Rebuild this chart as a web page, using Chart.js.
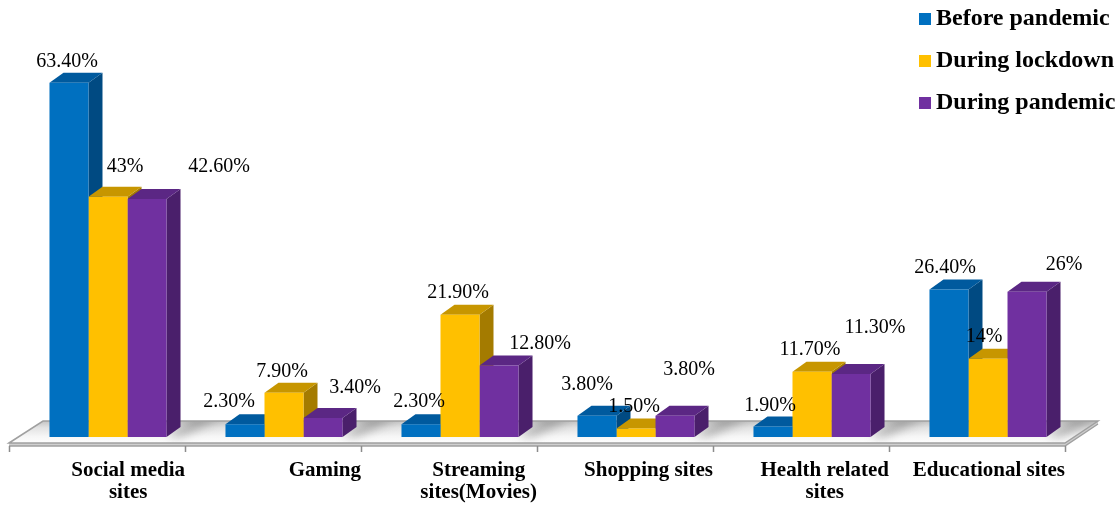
<!DOCTYPE html>
<html>
<head>
<meta charset="utf-8">
<script src="https://cdn.jsdelivr.net/npm/chart.js@4/dist/chart.umd.min.js"></script>
<style>
  html, body { margin: 0; padding: 0; background: #fff; }
  canvas { display: block; }
</style>
</head>
<body>
<canvas id="usage" width="1120" height="508"></canvas>
<script>
// site categories (wrapped the way they are printed under the floor)
const categories = [
  ["Social media", "sites"],
  ["Gaming"],
  ["Streaming", "sites(Movies)"],
  ["Shopping sites"],
  ["Health related", "sites"],
  ["Educational sites"]
];
const seriesNames = ["Before pandemic", "During lockdown", "During pandemic"];
const beforePandemic = [63.4, 2.3, 2.3, 3.8, 1.9, 26.4];
const duringLockdown = [43, 7.9, 21.9, 1.5, 11.7, 14];
const duringPandemic = [42.6, 3.4, 12.8, 3.8, 11.3, 26];

const frontColors = ["#0070C0", "#FFC000", "#7030A0"];
const topColors = ["#005A9E", "#C79600", "#5B2784"];
const sideColors = ["#004A82", "#A47B00", "#4A1F6B"];

// where each value label sits, relative to the top centre of its bar
const labelShift = [
  [[-2, -21], [-16, -22], [-2, -22], [-10, -31], [-3, -21], [-4, -22]],
  [[17, -30], [-2, -21], [-2, -22], [-2, -22], [-2, -22], [-4, -22]],
  [[72, -32], [32, -30], [41, -22], [14, -46], [24, -46], [37, -27]]
];

const DX = 14, DY = 10;   // bar depth
const SERIF = "'Liberation Serif', 'Times New Roman', serif";

function pct(v) {
  return (Number.isInteger(v) ? v : v.toFixed(2)) + "%";
}

function path(ctx, pts) {
  ctx.beginPath();
  ctx.moveTo(pts[0][0], pts[0][1]);
  for (let i = 1; i < pts.length; i++) ctx.lineTo(pts[i][0], pts[i][1]);
  ctx.closePath();
}

function poly(ctx, pts, fill) {
  path(ctx, pts);
  ctx.fillStyle = fill;
  ctx.fill();
}

const threeD = {
  id: "threeD",
  beforeDatasetsDraw(chart) {
    const { ctx, chartArea: a } = chart;
    const base = a.bottom;
    ctx.save();

    // floor slab
    const fl = a.left - 11, fr = a.right - 11, bl = a.left + 23, br = a.right + 22;
    const fy = base + 6, by = base - 16;
    const top = [[fl, fy], [bl, by], [br, by], [fr, fy]];
    poly(ctx, [[fl, fy], [fl, fy + 3], [fr, fy + 3], [br, by + 3], [br, by], [fr, fy]], "#cfcfcf");
    const g = ctx.createLinearGradient(0, by, 0, fy);
    g.addColorStop(0, "#c4c4c4");
    g.addColorStop(0.3, "#e2e2e2");
    g.addColorStop(0.7, "#f6f6f6");
    g.addColorStop(1, "#fdfdfd");
    poly(ctx, top, g);

    // soft shadows thrown back from each bar group
    ctx.save();
    path(ctx, top);
    ctx.clip();
    ctx.filter = "blur(5px)";
    ctx.fillStyle = "rgba(60,60,60,0.35)";
    const last = chart.getDatasetMeta(chart.data.datasets.length - 1).data;
    last.forEach(bar => {
      const gr = bar.x + bar.width / 2;
      path(ctx, [[gr, base], [gr + DX + 14, by - 2], [gr + DX + 40, by - 2], [gr + 14, base]]);
      ctx.fill();
    });
    ctx.restore();

    ctx.strokeStyle = "#a0a0a0";
    ctx.lineWidth = 1.5;
    path(ctx, top);
    ctx.stroke();
    ctx.beginPath();
    ctx.moveTo(fl, fy + 3); ctx.lineTo(fr, fy + 3); ctx.lineTo(br, by + 3);
    ctx.stroke();

    // side and top faces, left to right so nearer bars cover them
    chart.data.datasets.forEach((ds, i) => {
      chart.getDatasetMeta(i).data.forEach(bar => {
        const l = bar.x - bar.width / 2, r = bar.x + bar.width / 2, t = bar.y;
        poly(ctx, [[r, t], [r + DX, t - DY], [r + DX, base - DY], [r, base]], sideColors[i]);
        poly(ctx, [[l, t], [r, t], [r + DX, t - DY], [l + DX, t - DY]], topColors[i]);
      });
    });
    ctx.restore();
  },
  afterDatasetsDraw(chart) {
    const { ctx } = chart;
    ctx.save();
    ctx.font = "20px " + SERIF;
    ctx.fillStyle = "#000";
    ctx.textAlign = "center";
    ctx.textBaseline = "middle";
    chart.data.datasets.forEach((ds, i) => {
      chart.getDatasetMeta(i).data.forEach((bar, j) => {
        const [sx, sy] = labelShift[i][j];
        ctx.fillText(pct(ds.data[j]), bar.x + sx, bar.y + sy);
      });
    });
    ctx.restore();
  },
  afterDraw(chart) {
    const { ctx, chartArea: a, scales: { x } } = chart;
    const base = a.bottom;
    const step = x.getPixelForValue(1) - x.getPixelForValue(0);
    const x0 = x.getPixelForValue(0) - step / 2 - 11;
    ctx.save();

    // tick marks between categories
    ctx.strokeStyle = "#8c8c8c";
    ctx.lineWidth = 1.5;
    ctx.beginPath();
    for (let i = 0; i <= categories.length; i++) {
      const px = Math.round(x0 + i * step) + 0.5;
      ctx.moveTo(px, base + 9);
      ctx.lineTo(px, base + 15);
    }
    ctx.stroke();

    // category names, block right-aligned to the next tick
    ctx.font = "bold 21px " + SERIF;
    ctx.fillStyle = "#000";
    ctx.textAlign = "center";
    ctx.textBaseline = "alphabetic";
    categories.forEach((lines, i) => {
      const w = Math.max(...lines.map(s => ctx.measureText(s).width));
      const cx = x0 + (i + 1) * step - w / 2;
      lines.forEach((s, k) => ctx.fillText(s, cx, base + 39 + k * 22));
    });

    // legend
    ctx.font = "bold 24px " + SERIF;
    ctx.textAlign = "left";
    seriesNames.forEach((name, i) => {
      const y = 25 + i * 42;
      ctx.fillStyle = frontColors[i];
      ctx.fillRect(919, y - 12, 12, 12);
      ctx.fillStyle = "#000";
      ctx.fillText(name, 936, y);
    });
    ctx.restore();
  }
};

new Chart(document.getElementById("usage"), {
  type: "bar",
  data: {
    labels: categories,
    datasets: [beforePandemic, duringLockdown, duringPandemic].map((d, i) => ({
      label: seriesNames[i],
      data: d,
      backgroundColor: frontColors[i],
      borderWidth: 0,
      categoryPercentage: 0.665,
      barPercentage: 1
    }))
  },
  options: {
    responsive: false,
    animation: false,
    layout: { padding: { left: 20, right: 44, top: 46, bottom: 71 } },
    plugins: { legend: { display: false }, tooltip: { enabled: false } },
    scales: {
      x: { display: false },
      y: { display: false, min: 0, max: 70 }
    }
  },
  plugins: [threeD]
});
</script>
</body>
</html>
